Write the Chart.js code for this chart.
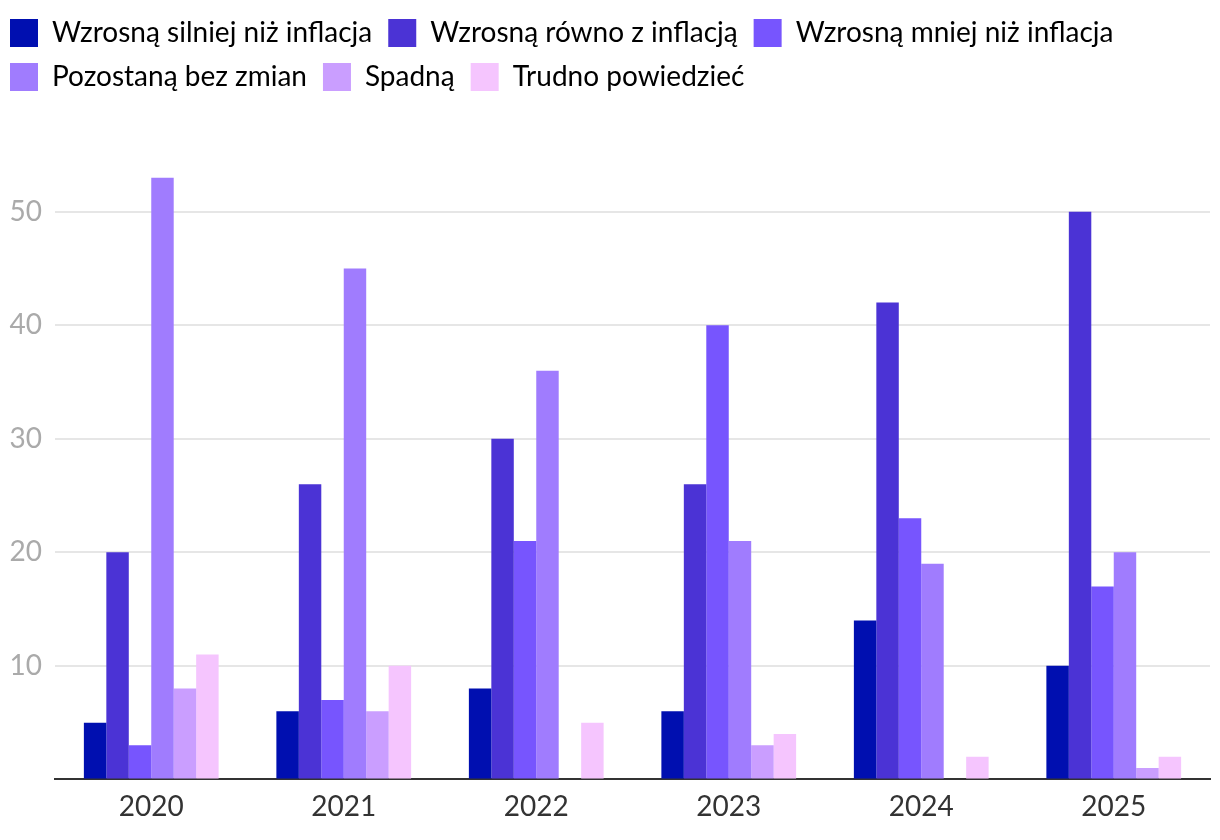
<!DOCTYPE html>
<html>
<head>
<meta charset="utf-8">
<script src="https://cdn.jsdelivr.net/npm/chart.js@4"></script>
<style>
  html, body { margin: 0; padding: 0; background: #fff; overflow: hidden; }
  #wrap { position: absolute; left: -6px; top: 0; width: 1226px; height: 840px; }
</style>
</head>
<body>
<div id="wrap"><canvas id="chart"></canvas></div>
<script>
var years = ['2020', '2021', '2022', '2023', '2024', '2025'];

var seriesNames = [
  'Wzrosną silniej niż inflacja',
  'Wzrosną równo z inflacją',
  'Wzrosną mniej niż inflacja',
  'Pozostaną bez zmian',
  'Spadną',
  'Trudno powiedzieć'
];

var silniej = [5, 6, 8, 6, 14, 10];
var rowno = [20, 26, 30, 26, 42, 50];
var mniej = [3, 7, 21, 40, 23, 17];
var bezZmian = [53, 45, 36, 21, 19, 20];
var spadna = [8, 6, 0, 3, 0, 1];
var trudno = [11, 10, 5, 4, 2, 2];

var colors = ['#000fb0', '#4b33d5', '#7755fe', '#a07cfe', '#ca9eff', '#f5c5fe'];

var yTicks = [10, 20, 30, 40, 50];

var font = 'Lato, "Noto Sans", sans-serif';

// push the plot down below the legend
var legendGap = {
  id: 'legendGap',
  beforeInit: function(chart) {
    var fit = chart.legend.fit;
    chart.legend.fit = function() {
      fit.bind(chart.legend)();
      this.height += 54;
    };
  }
};

var allSeries = [silniej, rowno, mniej, bezZmian, spadna, trudno];

new Chart(document.getElementById('chart').getContext('2d'), {
  type: 'bar',
  data: {
    labels: years,
    datasets: allSeries.map(function(d, i) {
      return { label: seriesNames[i], data: d, backgroundColor: colors[i], borderWidth: 0,
        categoryPercentage: 0.7, barPercentage: 1.0 };
    })
  },
  options: {
    responsive: true, maintainAspectRatio: false, animation: false,
    layout: { padding: { top: 3, right: 10, bottom: 5, left: 0 } },
    plugins: {
      legend: {
        position: 'top', align: 'start',
        labels: { boxWidth: 28, boxHeight: 28, padding: 16, color: '#000',
          font: { family: font, size: 28 } }
      },
      tooltip: { enabled: false }
    },
    scales: {
      x: {
        grid: { display: false, drawTicks: false },
        border: { display: true, color: '#333', width: 2 },
        ticks: { color: '#333', padding: 11, font: { family: font, size: 28 } }
      },
      y: {
        min: 0, max: 55,
        afterFit: function(scale) { scale.width = 61; },
        grid: { drawTicks: false, lineWidth: 2,
          color: function(ctx) { return yTicks.indexOf(ctx.tick.value) >= 0 ? '#e6e6e6' : 'rgba(0,0,0,0)'; } },
        border: { display: false },
        ticks: { stepSize: 10, color: '#aaa', padding: 13, font: { family: font, size: 28 },
          callback: function(v) { return yTicks.indexOf(v) >= 0 ? v : ''; } }
      }
    }
  },
  plugins: [legendGap]
});
</script>
</body>
</html>
